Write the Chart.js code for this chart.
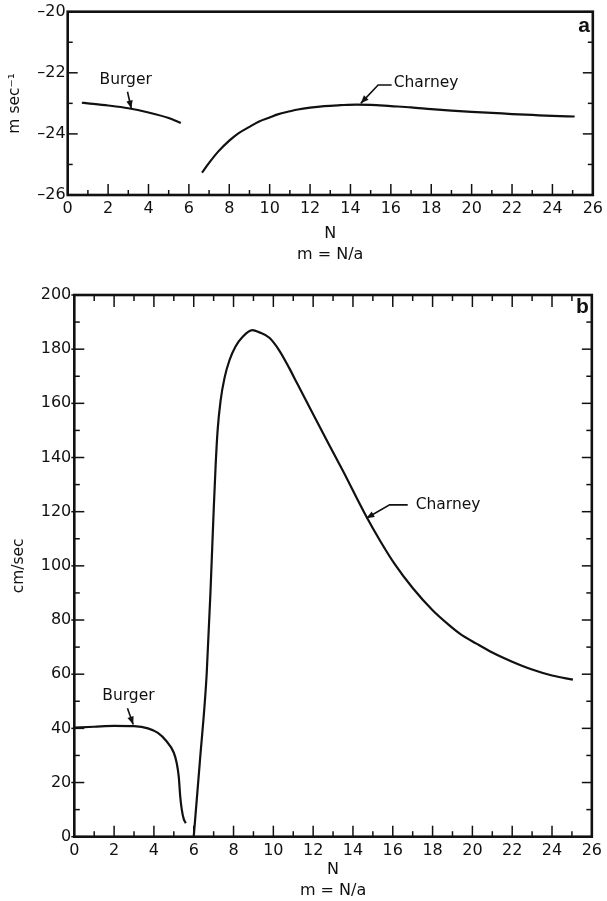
<!DOCTYPE html>
<html><head><meta charset="utf-8">
<script src="https://cdn.jsdelivr.net/npm/chart.js@4.4.1/dist/chart.umd.min.js"></script>
<style>
html,body{margin:0;padding:0;background:#fff;}
body{width:607px;height:901px;position:relative;overflow:hidden;}
#wa{position:absolute;left:0;top:0;width:607px;height:275px;}
#wb{position:absolute;left:0;top:280px;width:607px;height:621px;}
</style></head><body>
<div id="wa"><canvas id="ca"></canvas></div>
<div id="wb"><canvas id="cb"></canvas></div>
<script>
// ---------- Panel a (m sec^-1) ----------
const burgerA_N = [0.7, 1, 2, 3, 4, 5, 5.6];
const burgerA_V = [-22.98, -23.0, -23.07, -23.16, -23.3, -23.48, -23.64];
const charneyA_N = [6.65, 7.0, 7.45, 8.0, 8.45, 9.0, 9.45, 10.0, 10.4, 11.0, 11.4, 12.0, 12.7, 13.5, 14.3, 15.0, 16.0, 17.0, 18.0, 19.0, 20.0, 21.0, 22.0, 23.0, 24.0, 25.1];
const charneyA_V = [-25.27, -24.95, -24.58, -24.22, -23.98, -23.77, -23.6, -23.46, -23.36, -23.26, -23.2, -23.14, -23.09, -23.06, -23.04, -23.05, -23.09, -23.13, -23.19, -23.24, -23.28, -23.31, -23.35, -23.38, -23.41, -23.43];
const xTicksA = [0, 2, 4, 6, 8, 10, 12, 14, 16, 18, 20, 22, 24, 26];
const xMinorA = [1, 3, 5, 7, 9, 11, 13, 15, 17, 19, 21, 23, 25];
const yTicksA = [-26, -24, -22, -20];
const yMinorA = [-25, -23, -21];

// ---------- Panel b (cm/sec) ----------
const burgerB_N = [0, 1, 2, 3, 3.7, 4.2, 4.6, 5.0, 5.15, 5.25, 5.32, 5.4, 5.5, 5.6];
const burgerB_V = [40.3, 40.6, 40.9, 40.8, 40.0, 38.3, 35.5, 31, 27, 22, 15, 10, 6.5, 5];
const charneyB_N = [6.0, 6.3, 6.65, 6.85, 7.0, 7.1, 7.2, 7.35, 7.55, 7.8, 8.1, 8.45, 8.94, 9.3, 9.8, 10.3, 10.8, 11.2, 12.0, 12.76, 13.5, 14.65, 15.4, 16.1, 17.0, 18.0, 18.8, 19.4, 20.2, 21.0, 22.0, 23.0, 24.0, 25.05];
const charneyB_V = [0, 27, 60, 92, 120, 137, 150, 161, 169.5, 176, 181, 184.5, 187, 186.2, 184.2, 179.5, 173, 167.3, 156, 145.3, 135, 118.5, 108.8, 100.6, 91.8, 83.6, 78.3, 74.8, 71.3, 68, 64.6, 61.7, 59.5, 58];
const xTicksB = [0, 2, 4, 6, 8, 10, 12, 14, 16, 18, 20, 22, 24, 26];
const xMinorB = [1, 3, 5, 7, 9, 11, 13, 15, 17, 19, 21, 23, 25];
const yTicksB = [0, 20, 40, 60, 80, 100, 120, 140, 160, 180, 200];
const yMinorB = [10, 30, 50, 70, 90, 110, 130, 150, 170, 190];

const FONT = "'DejaVu Sans', 'Liberation Sans', sans-serif";
const INK = '#111';

function zip(xs, ys) { return xs.map((x, i) => ({x: x, y: ys[i]})); }

const framePlugin = {
  id: 'frame',
  afterDatasetsDraw(chart, args, o) {
    const ctx = chart.ctx, a = chart.chartArea;
    const xs = chart.scales.x, ys = chart.scales.y;
    ctx.save();
    ctx.strokeStyle = INK; ctx.lineCap = 'butt';
    ctx.lineWidth = 1.5;
    const line = (x1, y1, x2, y2) => { ctx.beginPath(); ctx.moveTo(x1, y1); ctx.lineTo(x2, y2); ctx.stroke(); };
    o.xMajor.forEach(v => { const p = xs.getPixelForValue(v); line(p, a.bottom, p, a.bottom - o.xMajLen);
      if (o.topTicks) line(p, a.top, p, a.top + o.topMajLen); });
    o.xMinor.forEach(v => { const p = xs.getPixelForValue(v); line(p, a.bottom, p, a.bottom - o.xMinLen);
      if (o.topTicks) line(p, a.top, p, a.top + o.topMinLen); });
    o.yMajor.forEach(v => { const p = ys.getPixelForValue(v);
      line(a.left - o.yOut, p, a.left + o.yMajLen, p); line(a.right, p, a.right - o.yMajLen, p); });
    o.yMinor.forEach(v => { const p = ys.getPixelForValue(v);
      line(a.left, p, a.left + o.yMinLen, p); line(a.right, p, a.right - o.yMinLen, p); });
    ctx.lineWidth = 2.6;
    ctx.strokeRect(a.left, a.top, a.right - a.left, a.bottom - a.top);
    ctx.fillStyle = INK;
    ctx.font = "bold 21px 'Liberation Sans', Arial, sans-serif";
    ctx.textAlign = 'right'; ctx.textBaseline = 'alphabetic';
    ctx.fillText(o.letter, a.right - 3, a.top + o.letterDy);
    ctx.font = "15.5px " + FONT;
    ctx.textBaseline = 'middle';
    o.notes.forEach(n => {
      ctx.textAlign = n.align;
      ctx.fillText(n.text, xs.getPixelForValue(n.x), ys.getPixelForValue(n.y));
      const pts = n.arrow.map(p => [xs.getPixelForValue(p[0]), ys.getPixelForValue(p[1])]);
      ctx.lineWidth = 1.6;
      ctx.beginPath(); ctx.moveTo(pts[0][0], pts[0][1]);
      for (let i = 1; i < pts.length; i++) ctx.lineTo(pts[i][0], pts[i][1]);
      ctx.stroke();
      const e = pts[pts.length - 1], s = pts[pts.length - 2];
      const ang = Math.atan2(e[1] - s[1], e[0] - s[0]);
      const L = 8, W = 3.2;
      ctx.beginPath();
      ctx.moveTo(e[0], e[1]);
      ctx.lineTo(e[0] - L * Math.cos(ang) + W * Math.sin(ang), e[1] - L * Math.sin(ang) - W * Math.cos(ang));
      ctx.lineTo(e[0] - L * Math.cos(ang) - W * Math.sin(ang), e[1] - L * Math.sin(ang) + W * Math.cos(ang));
      ctx.closePath(); ctx.fill();
    });
    ctx.restore();
  }
};

function lineDs(xs, ys) {
  return { data: zip(xs, ys), showLine: true, borderColor: INK, borderWidth: 2.2,
    pointRadius: 0, cubicInterpolationMode: 'monotone', fill: false };
}

function makeChart(id, cfg) {
  return new Chart(document.getElementById(id), {
    type: 'scatter',
    data: { datasets: cfg.datasets },
    options: {
      responsive: true, maintainAspectRatio: false, animation: false, devicePixelRatio: 1,
      layout: { padding: cfg.padding },
      plugins: { legend: {display: false}, tooltip: {enabled: false}, frame: cfg.frame },
      scales: {
        x: { type: 'linear', position: 'bottom', min: 0, max: 26,
          afterBuildTicks: s => { s.ticks = cfg.xTicks.map(v => ({value: v})); },
          grid: {display: false, drawTicks: false}, border: {display: false},
          ticks: { color: INK, font: {family: FONT, size: 16}, padding: cfg.xPad, maxRotation: 0, autoSkip: false },
          title: { display: true, text: ['N', 'm = N/a'], color: INK,
            font: {family: FONT, size: 16, lineHeight: cfg.xTitleLH}, padding: {top: 0, bottom: cfg.xTitlePadB} },
          afterFit: s => { s.height = cfg.xHeight; } },
        y: { type: 'linear', position: 'left', min: cfg.yMin, max: cfg.yMax,
          afterBuildTicks: s => { s.ticks = cfg.yTicks.map(v => ({value: v})); },
          grid: {display: false, drawTicks: false}, border: {display: false},
          ticks: { color: INK, font: {family: FONT, size: 16}, padding: cfg.yPad, autoSkip: false,
            callback: v => String(v).replace('-', '\u2013') },
          title: { display: true, text: cfg.yTitle, color: INK,
            font: {family: FONT, size: 15.5, lineHeight: 1.2}, padding: {top: cfg.yTitlePadT, bottom: 0} },
          afterFit: s => { s.width = cfg.yWidth; } }
      }
    },
    plugins: [framePlugin]
  });
}

makeChart('ca', {
  datasets: [lineDs(burgerA_N, burgerA_V), lineDs(charneyA_N, charneyA_V)],
  padding: {top: 11.7, right: 12, left: 0, bottom: 0},
  xTicks: xTicksA, yTicks: yTicksA, yMin: -26, yMax: -20,
  xPad: 4, xTitleLH: 1.35, xTitlePadB: 9.2, xHeight: 80,
  yPad: 2, yTitle: 'm sec\u207B\u00B9', yTitlePadT: 5.5, yWidth: 67.7,
  frame: { xMajor: xTicksA, xMinor: xMinorA, yMajor: yTicksA, yMinor: yMinorA,
    xMajLen: 11, xMinLen: 5, topTicks: false, topMajLen: 0, topMinLen: 0,
    yMajLen: 10, yMinLen: 5, yOut: 0, letter: 'a', letterDy: 20,
    notes: [
      {text: 'Burger', x: 2.87, y: -22.24, align: 'center', arrow: [[2.96, -22.62], [3.15, -23.17]]},
      {text: 'Charney', x: 16.14, y: -22.33, align: 'left', arrow: [[16.04, -22.4], [15.37, -22.4], [14.51, -23.0]]}
    ] }
});

makeChart('cb', {
  datasets: [lineDs(burgerB_N, burgerB_V), lineDs(charneyB_N, charneyB_V)],
  padding: {top: 15, right: 12, left: 0, bottom: 0},
  xTicks: xTicksB, yTicks: yTicksB, yMin: 0, yMax: 200,
  xPad: 5, xTitleLH: 1.3, xTitlePadB: 0, xHeight: 64.3,
  yPad: 3, yTitle: 'cm/sec', yTitlePadT: 9.5, yWidth: 74.3,
  frame: { xMajor: xTicksB, xMinor: xMinorB, yMajor: yTicksB, yMinor: yMinorB,
    xMajLen: 11, xMinLen: 5.5, topTicks: true, topMajLen: 12, topMinLen: 6,
    yMajLen: 10, yMinLen: 5.5, yOut: 3, letter: 'b', letterDy: 18,
    notes: [
      {text: 'Burger', x: 2.72, y: 52, align: 'center', arrow: [[2.67, 47.4], [2.96, 41.4]]},
      {text: 'Charney', x: 17.15, y: 122.5, align: 'left', arrow: [[16.75, 122.5], [15.84, 122.5], [14.67, 117.6]]}
    ] }
});
</script>
</body></html>
